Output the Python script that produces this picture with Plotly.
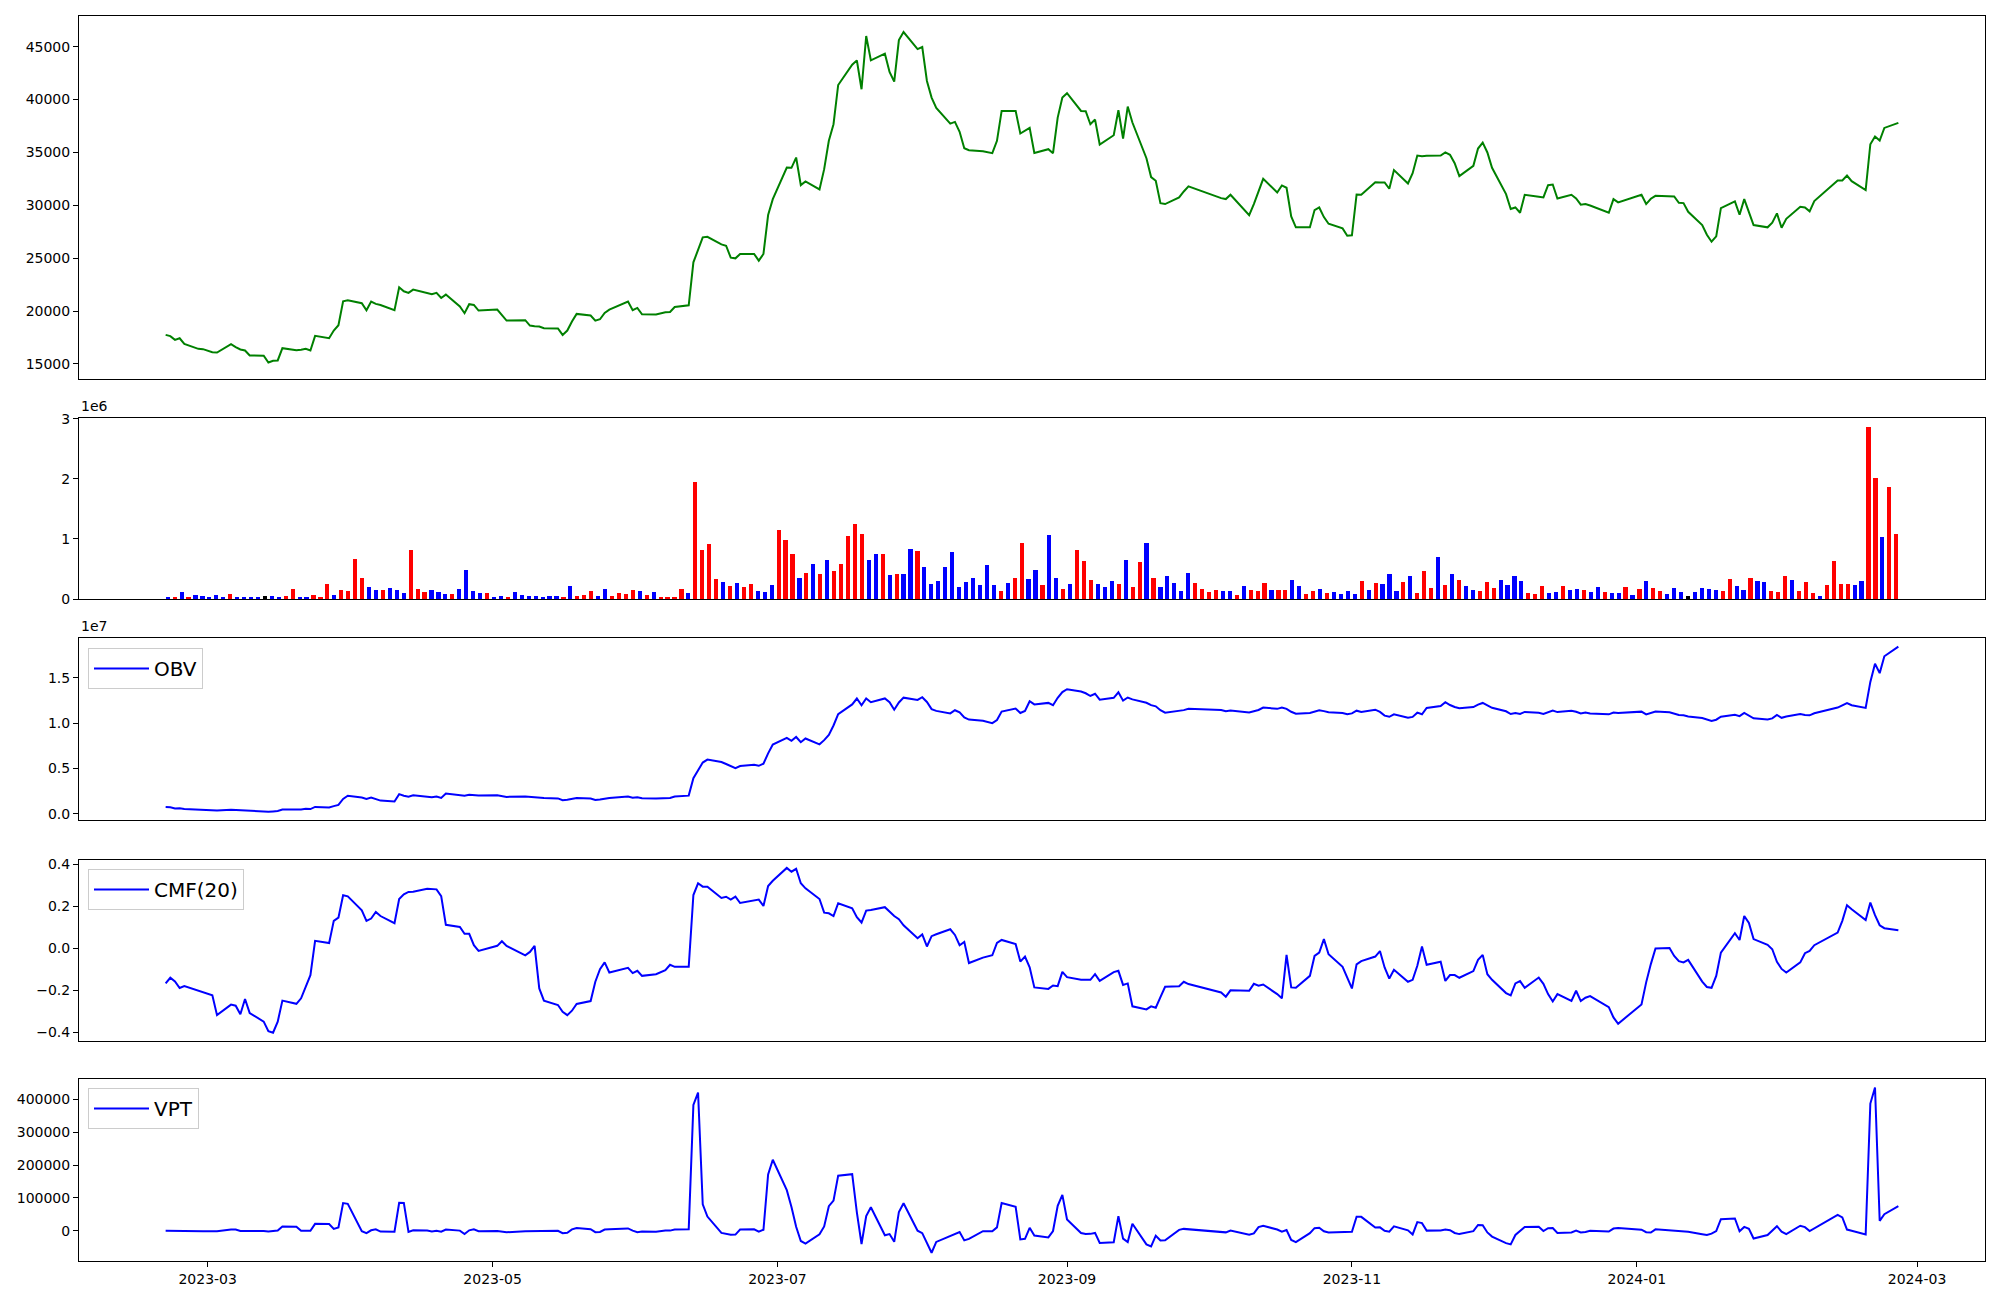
import pandas as pd
import plotly.graph_objects as go

# ---------------- data ----------------
krx_holidays = ["2023-03-01", "2023-05-01", "2023-05-05", "2023-05-29", "2023-06-06",
                "2023-08-15", "2023-09-28", "2023-09-29", "2023-10-02", "2023-10-03",
                "2023-10-09", "2023-12-25", "2023-12-29", "2024-01-01", "2024-02-09",
                "2024-02-12"]
dates = [d for d in pd.bdate_range("2023-02-20", "2024-02-26")
         if d.strftime("%Y-%m-%d") not in krx_holidays]

close = [
    17750, 17630, 17280, 17430, 16900, 16430, 16400, 16110, 16080, 16870,
    16590, 16370, 16270, 15800, 15780, 15140, 15300, 15330, 16490, 16300,
    16340, 16430, 16270, 17660, 17430, 18160, 18660, 20930, 21020, 20740,
    20080, 20900, 20680, 20580, 20080, 22250, 21870, 21720, 22030, 21720,
    21590, 21720, 21240, 21560, 20430, 19800, 20650, 20580, 20050, 20140,
    19580, 19100, 19140, 18630, 18570, 18540, 18380, 18350, 17750, 18160,
    19010, 19730, 19580, 19100, 19230, 19830, 20140, 20900, 20080, 20300,
    19700, 19680, 19890, 19920, 20390, 20550, 24610, 25770, 26970, 27030,
    26310, 26180, 25050, 24990, 25400, 25400, 24770, 25400, 29080, 30590,
    33580, 33550, 34520, 31910, 32260, 31500, 33420, 36100, 37670, 41380,
    43300, 43710, 40980, 46010, 43710, 44340, 42610, 41700, 45630, 46390,
    44780, 44970, 41760, 40190, 39210, 37730, 37890, 36950, 35400, 35220,
    35120, 34930, 36100, 38930, 38930, 36790, 37070, 37320, 34960, 35310,
    34930, 38300, 40190, 40600, 38930, 38900, 37670, 38110, 35750, 36630,
    38990, 36320, 39340, 37830, 34460, 32670, 32320, 30210, 30120, 30750,
    31310, 31790, 30680, 30590, 31000, 29080, 30120, 31380, 32510, 31220,
    31880, 31660, 28950, 27920, 27920, 29550, 29800, 28890, 28260, 27820,
    27130, 27160, 31030, 31000, 32190, 32170, 32160, 31570, 33330, 32070,
    33040, 34710, 34650, 34680, 34710, 35000, 34780, 33990, 32760, 33740,
    35370, 35940, 35000, 33550, 31060, 29650, 29800, 29300, 31000, 30810,
    30750, 31910, 31970, 30650, 31000, 30650, 30060, 30120, 29990, 29300,
    30590, 30280, 31000, 30120, 30620, 30900, 30870, 30840, 30240, 30210,
    29390, 28140, 27220, 26560, 27070, 29740, 30370, 29110, 30590, 29390,
    28140, 27920, 28360, 29240, 27880, 28730, 29870, 29800, 29430, 30400,
    32350, 32350, 32820, 32290, 31440, 35780, 36510, 36130, 37320, 37800,
]

volume = [
    33000, 33000, 116000, 17000, 66000, 50000, 33000, 66000, 33000, 83000,
    33000, 17000, 33000, 33000, 50000, 50000, 33000, 50000, 166000, 33000,
    33000, 66000, 33000, 248000, 66000, 149000, 132000, 662000, 348000, 199000,
    149000, 149000, 182000, 149000, 99000, 811000, 166000, 116000, 149000, 116000,
    83000, 83000, 166000, 480000, 132000, 99000, 99000, 33000, 50000, 33000,
    116000, 66000, 50000, 50000, 33000, 50000, 50000, 33000, 215000, 50000,
    66000, 132000, 50000, 166000, 50000, 99000, 83000, 149000, 132000, 66000,
    116000, 33000, 33000, 17000, 166000, 99000, 1937000, 811000, 911000, 331000,
    281000, 215000, 265000, 199000, 248000, 132000, 116000, 232000, 1142000, 977000,
    745000, 348000, 430000, 579000, 414000, 646000, 464000, 579000, 1043000, 1242000,
    1076000, 646000, 745000, 745000, 397000, 414000, 414000, 828000, 795000, 530000,
    248000, 298000, 530000, 778000, 199000, 281000, 348000, 232000, 563000, 232000,
    132000, 265000, 348000, 927000, 331000, 480000, 232000, 1060000, 348000, 166000,
    248000, 811000, 629000, 315000, 248000, 199000, 298000, 248000, 646000, 199000,
    613000, 927000, 348000, 199000, 381000, 265000, 132000, 430000, 265000, 166000,
    116000, 149000, 132000, 132000, 66000, 215000, 149000, 132000, 265000, 149000,
    149000, 149000, 315000, 215000, 83000, 132000, 166000, 99000, 116000, 83000,
    132000, 83000, 298000, 149000, 265000, 248000, 414000, 132000, 281000, 381000,
    99000, 464000, 182000, 695000, 232000, 414000, 315000, 215000, 149000, 132000,
    281000, 182000, 315000, 232000, 381000, 298000, 99000, 83000, 215000, 99000,
    116000, 215000, 149000, 166000, 149000, 116000, 199000, 116000, 99000, 99000,
    199000, 66000, 166000, 298000, 182000, 132000, 83000, 182000, 116000, 50000,
    116000, 182000, 166000, 149000, 132000, 331000, 215000, 149000, 348000, 298000,
    281000, 132000, 116000, 381000, 315000, 132000, 281000, 99000, 50000, 232000,
    629000, 248000, 248000, 232000, 298000, 2864000, 2003000, 1027000, 1854000, 1076000,
]

# bar colour per day as drawn: r = red, b = blue, k = black
bar_colors = (
    "brbrbbbbbr" "bbbbkbbrrb" "brrrbrrrrb" "brbbbrrrbb" "brbbbbrbbr"
    "bbbbbbbrbr" "rrbbrrrrbr" "brrrrbrrrr" "brbrrbbbrr" "rbrbrbrrrr"
    "rbbrbrbbrb" "bbbbbbbbbb" "rbrrbbrbbr" "brrrbbbrbr" "rbrbbbbbrr"
    "rrbbrbrrrb" "rrbbrrbrbb" "bbrbrbbbrb" "rrrbrbrbbr" "rrbbbbrrrb"
    "brbbrbbrbb" "rbrbrrbbbk" "bbbbrrbbrb" "brrrbrrrbr" "rrrbbrrbrr"
)

obv = [
    740000, 710000, 590000, 610000, 540000, 490000, 454000, 394000, 364000, 444000,
    414000, 394000, 364000, 324000, 274000, 224000, 264000, 314000, 474000, 444000,
    474000, 544000, 514000, 754000, 694000, 844000, 974000, 1634000, 1984000, 1784000,
    1634000, 1784000, 1604000, 1454000, 1354000, 2164000, 1994000, 1884000, 2034000, 1914000,
    1834000, 1914000, 1754000, 2234000, 2094000, 1994000, 2094000, 2064000, 2014000, 2044000,
    1934000, 1864000, 1914000, 1864000, 1834000, 1784000, 1734000, 1698000, 1488000, 1538000,
    1598000, 1728000, 1678000, 1518000, 1568000, 1668000, 1748000, 1898000, 1768000, 1828000,
    1718000, 1682000, 1712000, 1732000, 1902000, 2002000, 3932000, 4742000, 5652000, 5982000,
    5702000, 5492000, 5222000, 5022000, 5272000, 5402000, 5292000, 5522000, 6662000, 7642000,
    8382000, 8042000, 8472000, 7892000, 8302000, 7662000, 8122000, 8702000, 9742000, 10982000,
    12062000, 12712000, 11962000, 12712000, 12312000, 12722000, 12312000, 11482000, 12282000, 12812000,
    12562000, 12862000, 12332000, 11552000, 11352000, 11072000, 11422000, 11182000, 10622000, 10392000,
    10262000, 9992000, 10342000, 11272000, 11602000, 11122000, 11352000, 12412000, 12062000, 12232000,
    11982000, 12792000, 13422000, 13742000, 13492000, 13294000, 12994000, 13244000, 12594000, 12794000,
    13404000, 12484000, 12824000, 12624000, 12244000, 11984000, 11854000, 11424000, 11154000, 11324000,
    11434000, 11584000, 11454000, 11324000, 11384000, 11174000, 11324000, 11454000, 11724000, 11574000,
    11724000, 11574000, 11254000, 11044000, 11124000, 11254000, 11424000, 11324000, 11204000, 11124000,
    10994000, 11074000, 11374000, 11224000, 11484000, 11238000, 10828000, 10698000, 10978000, 10598000,
    10688000, 11158000, 10978000, 11668000, 11898000, 12318000, 11998000, 11788000, 11638000, 11768000,
    12048000, 12228000, 11918000, 11688000, 11308000, 11008000, 11108000, 11018000, 11238000, 11138000,
    11018000, 11238000, 11388000, 11218000, 11368000, 11248000, 11058000, 11168000, 11068000, 10968000,
    11168000, 11108000, 11268000, 10968000, 11158000, 11288000, 11208000, 11018000, 10908000, 10858000,
    10738000, 10558000, 10388000, 10248000, 10378000, 10708000, 10918000, 10768000, 11118000, 10818000,
    10538000, 10408000, 10528000, 10908000, 10588000, 10728000, 11008000, 10908000, 10858000, 11088000,
    11718000, 11968000, 12208000, 11978000, 11678000, 14548000, 16548000, 15518000, 17378000, 18448000,
]

cmf20 = [
    -0.166, -0.139, -0.157, -0.188, -0.179, -0.199, -0.207, -0.222, -0.317, -0.267,
    -0.272, -0.313, -0.240, -0.307, -0.348, -0.393, -0.401, -0.348, -0.248, -0.263,
    -0.237, -0.182, -0.127, 0.037, 0.026, 0.132, 0.147, 0.254, 0.249, 0.182,
    0.132, 0.143, 0.174, 0.155, 0.121, 0.236, 0.258, 0.270, 0.271, 0.285,
    0.285, 0.282, 0.250, 0.113, 0.103, 0.070, 0.070, 0.016, -0.011, 0.013,
    0.035, 0.013, -0.032, -0.016, 0.013, -0.190, -0.248, -0.269, -0.301, -0.317,
    -0.296, -0.264, -0.250, -0.158, -0.098, -0.066, -0.114, -0.092, -0.117, -0.106,
    -0.130, -0.122, -0.103, -0.077, -0.087, -0.087, 0.255, 0.311, 0.295, 0.295,
    0.241, 0.247, 0.233, 0.247, 0.217, 0.230, 0.233, 0.203, 0.298, 0.323,
    0.384, 0.366, 0.380, 0.311, 0.287, 0.236, 0.171, 0.168, 0.155, 0.216,
    0.192, 0.149, 0.124, 0.181, 0.184, 0.197, 0.174, 0.155, 0.140, 0.111,
    0.049, 0.067, 0.010, 0.059, 0.068, 0.092, 0.065, 0.016, 0.032, -0.069,
    -0.043, -0.032, 0.027, 0.041, 0.021, -0.062, -0.038, -0.089, -0.185, -0.192,
    -0.176, -0.179, -0.111, -0.136, -0.149, -0.149, -0.149, -0.122, -0.154, -0.112,
    -0.106, -0.173, -0.166, -0.275, -0.290, -0.275, -0.282, -0.231, -0.182, -0.179,
    -0.158, -0.169, -0.209, -0.229, -0.199, -0.201, -0.168, -0.177, -0.171, -0.217,
    -0.237, -0.030, -0.185, -0.187, -0.130, -0.035, -0.019, 0.045, -0.027, -0.087,
    -0.138, -0.190, -0.075, -0.060, -0.038, -0.012, -0.090, -0.143, -0.101, -0.158,
    -0.149, -0.082, 0.010, -0.077, -0.063, -0.154, -0.126, -0.126, -0.139, -0.107,
    -0.054, -0.030, -0.122, -0.149, -0.212, -0.223, -0.166, -0.155, -0.187, -0.138,
    -0.168, -0.217, -0.252, -0.217, -0.249, -0.201, -0.250, -0.234, -0.226, -0.279,
    -0.328, -0.358, -0.266, -0.161, -0.074, 0.000, 0.003, -0.035, -0.060, -0.066,
    -0.054, -0.157, -0.183, -0.187, -0.130, -0.019, 0.073, 0.041, 0.155, 0.122,
    0.045, 0.018, -0.003, -0.063, -0.097, -0.114, -0.066, -0.022, -0.011, 0.016,
    0.076, 0.132, 0.206, 0.187, 0.136, 0.219, 0.159, 0.111, 0.097, 0.087,
]

vpt = [
    0, -200, -2500, -2200, -1900, -3400, -1400, -1300, -1300, 4000,
    3500, -800, -400, -1200, -1000, -2100, -1700, 400, 12700, 12200,
    -300, 400, 0, 20900, 20300, 5400, 9900, 84200, 82000, -1200,
    -7400, 1300, 4200, -2600, -3100, 85200, 84800, -3600, 1300, 500,
    -2100, 0, -3200, 3600, 300, -10000, 1200, 4100, -1400, -1100,
    -3100, -4800, -1500, -1200, -1400, -200, -500, -400, -7400, -6200,
    4200, 8100, 4600, -4400, -3700, 3400, 4400, 6900, 400, -4500,
    -2700, -3400, 300, 300, 3900, 4700, 383500, 420900, 80600, 43200,
    -6700, -8500, -12500, -11900, 3600, 4100, -2900, 3000, 171400, 216200,
    123600, 72500, 12100, -31300, -39200, -10700, 13100, 74700, 91800, 167700,
    172200, 56000, -40400, 44900, 71600, -13900, -10200, -33800, 57200, 83800,
    200, -7300, -36600, -67100, -34100, -15500, -9100, -4300, -29400, -24800,
    -1600, -1800, 10200, 84300, 72700, -26400, -24600, 8900, -14900, -20300,
    -1000, 75600, 109300, 34300, -7000, -10200, -9600, -6700, -37100, -35100,
    44400, -24000, -34500, 21300, -41600, -47700, -15200, -29500, -28900, 2700,
    5600, 4400, -2300, -5000, 500, -12400, -8000, 10900, 15100, 3600,
    -2800, 2100, -28000, -34600, -7600, 7700, 9100, -1600, -5600, -3800,
    -4600, -3200, 42600, 42300, 10000, 10200, -400, -2800, 13200, 1300,
    -11400, 26400, 23100, 300, 800, 3700, 1500, -6900, -10300, -1400,
    17500, 16500, -5300, -17900, -37900, -41800, -13000, -900, 11100, 11900,
    -800, 7900, 8400, -6600, -5200, 400, -5100, -3600, -200, -2700,
    6500, 8100, 3300, -4500, -5400, 4200, 1100, -300, -2400, -2300,
    -3200, -10900, -13200, -9000, -1100, 35200, 37200, -1600, 11500, 6000,
    -23600, -13000, 800, 13700, -2800, -10600, 15200, 10900, -900, 7000,
    48000, 40300, 3600, -100, -11600, 387500, 436200, 30200, 50400, 74900,
]

price_ticks = [15000, 20000, 25000, 30000, 35000, 40000, 45000]
volume_ticks = [0, 1000000, 2000000, 3000000]
obv_ticks = [0, 5000000, 10000000, 15000000]
cmf_ticks = [-0.4, -0.2, 0.0, 0.2, 0.4]
vpt_ticks = [0, 100000, 200000, 300000, 400000]

color_map = {"r": "#ff0000", "b": "#0000ff", "k": "#000000"}
bar_cols = [color_map[c] for c in bar_colors]

# ---------------- figure ----------------
FONT = "DejaVu Sans"
W, H = 2000, 1300
ML, MR, MT, MB = 79, 15, 15, 39
plot_h = H - MT - MB


def dom(top_px, bot_px):
    return [max(0.0, (H - MB - bot_px) / plot_h), min(1.0, (H - MB - top_px) / plot_h)]


def padded(vals):
    lo, hi = min(vals), max(vals)
    d = hi - lo
    return [lo - 0.05 * d, hi + 0.05 * d]


d0, d1 = dates[0], dates[-1]
span = d1 - d0
xrange_dates = [d0 - span * 0.05, d1 + span * 0.05]
n = len(volume)
bw = 0.6
bar_lo, bar_hi = -bw / 2, (n - 1) + bw / 2
bar_range = [bar_lo - 0.05 * (bar_hi - bar_lo), bar_hi + 0.05 * (bar_hi - bar_lo)]

fig = go.Figure()
fig.add_trace(go.Scatter(x=dates, y=close, mode="lines", line=dict(color="#008000", width=2),
                         showlegend=False, xaxis="x", yaxis="y"))
fig.add_trace(go.Bar(x=list(range(n)), y=volume, width=bw,
                     marker=dict(color=bar_cols, line=dict(width=0)),
                     showlegend=False, xaxis="x2", yaxis="y2"))
fig.add_trace(go.Scatter(x=dates, y=obv, mode="lines", name="OBV", line=dict(color="#0000ff", width=2),
                         xaxis="x3", yaxis="y3", legend="legend"))
fig.add_trace(go.Scatter(x=dates, y=cmf20, mode="lines", name="CMF(20)", line=dict(color="#0000ff", width=2),
                         xaxis="x4", yaxis="y4", legend="legend2"))
fig.add_trace(go.Scatter(x=dates, y=vpt, mode="lines", name="VPT", line=dict(color="#0000ff", width=2),
                         xaxis="x5", yaxis="y5", legend="legend3"))

axis_common = dict(showline=True, mirror=True, linecolor="black", linewidth=1, showgrid=False,
                   zeroline=False, ticks="outside", ticklen=5, tickwidth=1, tickcolor="black",
                   tickfont=dict(family=FONT, size=14, color="black"))
hidden_x = dict(showline=True, mirror=True, linecolor="black", linewidth=1, showgrid=False,
                zeroline=False, ticks="", showticklabels=False)

domains = [dom(15.5, 379), dom(418.3, 599), dom(638.3, 820), dom(859.7, 1041), dom(1079.3, 1261)]

month_ticks = pd.date_range("2023-03-01", "2024-03-01", freq="2MS")


def minus(v, fmt):
    return (fmt % v).replace("-", "\u2212")


layout = dict(
    width=W, height=H, margin=dict(l=ML, r=MR, t=MT, b=MB, autoexpand=False),
    paper_bgcolor="white", plot_bgcolor="white",
    font=dict(family=FONT, size=14, color="black"),
    bargap=0,
    xaxis=dict(hidden_x, domain=[0, 1], anchor="y", type="date", range=xrange_dates),
    xaxis2=dict(hidden_x, domain=[0, 1], anchor="y2", range=bar_range),
    xaxis3=dict(hidden_x, domain=[0, 1], anchor="y3", type="date", matches="x"),
    xaxis4=dict(hidden_x, domain=[0, 1], anchor="y4", type="date", matches="x"),
    xaxis5=dict(axis_common, domain=[0, 1], anchor="y5", type="date", matches="x",
                tickvals=list(month_ticks), ticktext=[t.strftime("%Y-%m") for t in month_ticks]),
    yaxis=dict(axis_common, domain=domains[0], anchor="x", range=padded(close),
               tickvals=price_ticks, ticktext=[str(t) for t in price_ticks]),
    yaxis2=dict(axis_common, domain=domains[1], anchor="x2", range=[0, max(volume) * 1.05],
                tickvals=volume_ticks, ticktext=["%d" % (t / 1e6) for t in volume_ticks]),
    yaxis3=dict(axis_common, domain=domains[2], anchor="x3", range=padded(obv),
                tickvals=obv_ticks, ticktext=["%.1f" % (t / 1e7) for t in obv_ticks]),
    yaxis4=dict(axis_common, domain=domains[3], anchor="x4", range=padded(cmf20),
                tickvals=cmf_ticks, ticktext=[minus(t, "%.1f") for t in cmf_ticks]),
    yaxis5=dict(axis_common, domain=domains[4], anchor="x5", range=padded(vpt),
                tickvals=vpt_ticks, ticktext=[str(t) for t in vpt_ticks]),
)

leg_common = dict(xanchor="left", yanchor="top", bgcolor="rgba(255,255,255,0.8)",
                  bordercolor="#cccccc", borderwidth=1,
                  font=dict(family=FONT, size=20, color="black"), itemwidth=55)
leg_x = 9 / (W - ML - MR)
layout["legend"] = dict(leg_common, x=leg_x, y=(H - MB - 648) / plot_h)
layout["legend2"] = dict(leg_common, x=leg_x, y=(H - MB - 869) / plot_h)
layout["legend3"] = dict(leg_common, x=leg_x, y=(H - MB - 1088) / plot_h)

layout["annotations"] = [
    dict(text="1e6", xref="paper", yref="paper", x=0, y=domains[1][1], xanchor="left",
         yanchor="bottom", showarrow=False, yshift=2, font=dict(family=FONT, size=14, color="black")),
    dict(text="1e7", xref="paper", yref="paper", x=0, y=domains[2][1], xanchor="left",
         yanchor="bottom", showarrow=False, yshift=2, font=dict(family=FONT, size=14, color="black")),
]

fig.update_layout(layout)
# remove the browser's default 8px page margin so the figure sits at the window origin
fig.write_html("out.html", config={"displayModeBar": False},
               post_script="document.body.style.margin='0px';")
